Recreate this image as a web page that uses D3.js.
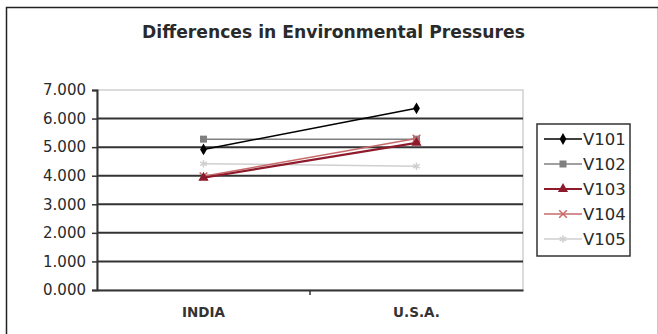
<!DOCTYPE html>
<html><head><meta charset="utf-8">
<script src="https://cdn.jsdelivr.net/npm/d3@7"></script>
<style>html,body{margin:0;padding:0;background:#fff}svg{display:block}</style>
</head><body>
<script>
const categories = ["INDIA", "U.S.A."];
const seriesNames = ["V101", "V102", "V103", "V104", "V105"];
const V101 = [4.92, 6.36];
const V102 = [5.28, 5.28];
const V103 = [3.93, 5.15];
const V104 = [3.98, 5.30];
const V105 = [4.42, 4.33];
const yTicks = [0, 1, 2, 3, 4, 5, 6, 7];
const seriesValues = [V101, V102, V103, V104, V105];
const colors = ["#000000", "#808080", "#8e1b2c", "#c86a6a", "#cfcfcf"];
const markers = ["diamond", "square", "triangle", "x", "star"];

const FONT = "DejaVu Sans, Verdana, sans-serif";
const W = 658, H = 334;
const svg = d3.select("body").append("svg").attr("width", W).attr("height", H);
svg.append("rect").attr("x", 6.5).attr("y", 7.5).attr("width", W - 6).attr("height", H - 6)
  .attr("fill", "#fff").attr("stroke", "#222").attr("stroke-width", 1.5);

const title = svg.append("text").attr("x", 333.5).attr("y", 38).attr("text-anchor", "middle")
  .attr("font-family", FONT).attr("font-weight", "bold")
  .attr("font-size", 16).attr("fill", "#2a2a2a").text("Differences in Environmental Pressures");
const tw = title.node().getComputedTextLength();
title.attr("font-size", 16 * 383 / tw);

const L = 97, R = 523, T = 90, B = 290;
const x = d3.scaleBand().domain(categories).range([L, R]);
const y = d3.scaleLinear().domain([0, 7]).range([B, T]);

// plot border (light)
svg.append("rect").attr("x", L).attr("y", T).attr("width", R - L).attr("height", B - T)
  .attr("fill", "#fff").attr("stroke", "#d0d0d0").attr("stroke-width", 1.5);

// gridlines
svg.append("g").selectAll("line").data(yTicks.filter(d => d > 0 && d < 7)).join("line")
  .attr("x1", L).attr("x2", R).attr("y1", d => y(d)).attr("y2", d => y(d))
  .attr("stroke", "#333").attr("stroke-width", 2);

// y axis
const yAxis = d3.axisLeft(y).tickValues(yTicks).tickFormat(d3.format(".3f")).tickSize(5).tickPadding(6);
const gy = svg.append("g").attr("transform", `translate(${L},0)`).call(yAxis);
gy.select(".domain").attr("stroke", "#333").attr("stroke-width", 2);
gy.selectAll(".tick line").attr("stroke", "#333").attr("stroke-width", 1.5);
gy.selectAll("text").attr("font-family", FONT).attr("font-size", 15).attr("fill", "#2a2a2a");

// x axis
const xAxis = d3.axisBottom(x).tickSize(0).tickPadding(17);
const gx = svg.append("g").attr("transform", `translate(0,${B})`).call(xAxis);
gx.select(".domain").attr("stroke", "#333").attr("stroke-width", 2);
gx.selectAll("text").attr("font-family", FONT).attr("font-size", 13.5)
  .attr("font-weight", "bold").attr("fill", "#333");
// middle tick between categories
svg.append("line").attr("x1", x(categories[1])).attr("x2", x(categories[1])).attr("y1", B).attr("y2", B + 5)
  .attr("stroke", "#333").attr("stroke-width", 1.5);

function marker(g, type, cx, cy, color) {
  if (type === "diamond") {
    g.append("path").attr("d", d3.symbol(d3.symbolDiamond, 40)()).attr("transform", `translate(${cx},${cy})`).attr("fill", color);
  } else if (type === "square") {
    g.append("rect").attr("x", cx - 3.5).attr("y", cy - 3.5).attr("width", 7).attr("height", 7).attr("fill", color);
  } else if (type === "triangle") {
    g.append("path").attr("d", d3.symbol(d3.symbolTriangle, 45)()).attr("transform", `translate(${cx},${cy})`).attr("fill", color);
  } else if (type === "x") {
    g.append("path").attr("d", d3.symbol(d3.symbolX, 40)()).attr("transform", `translate(${cx},${cy})`)
      .attr("fill", "none").attr("stroke", color).attr("stroke-width", 1.5);
  } else {
    g.append("path").attr("d", d3.symbol(d3.symbolAsterisk, 40)()).attr("transform", `translate(${cx},${cy})`)
      .attr("fill", "none").attr("stroke", color).attr("stroke-width", 1.5);
  }
}

const line = d3.line().x((d, i) => x(categories[i]) + x.bandwidth() / 2).y(d => y(d));
const order = [4, 1, 0, 3, 2];
order.forEach(si => {
  const g = svg.append("g");
  g.append("path").attr("d", line(seriesValues[si])).attr("fill", "none").attr("stroke", colors[si])
    .attr("stroke-width", si === 2 ? 2.2 : 1.5);
  seriesValues[si].forEach((v, i) => marker(g, markers[si], x(categories[i]) + x.bandwidth() / 2, y(v), colors[si]));
});

// legend
const lg = svg.append("g");
lg.append("rect").attr("x", 537).attr("y", 124).attr("width", 93).attr("height", 132)
  .attr("fill", "#fff").attr("stroke", "#333").attr("stroke-width", 1.5);
seriesNames.forEach((n, i) => {
  const ly = 139 + i * 25;
  lg.append("line").attr("x1", 544).attr("x2", 582).attr("y1", ly).attr("y2", ly)
    .attr("stroke", colors[i]).attr("stroke-width", i === 2 ? 2.2 : 1.5);
  marker(lg, markers[i], 563, ly, colors[i]);
  lg.append("text").attr("x", 583).attr("y", ly + 6).attr("font-family", FONT)
    .attr("font-size", 16.5).attr("fill", "#2a2a2a").text(n);
});
</script>
</body></html>
